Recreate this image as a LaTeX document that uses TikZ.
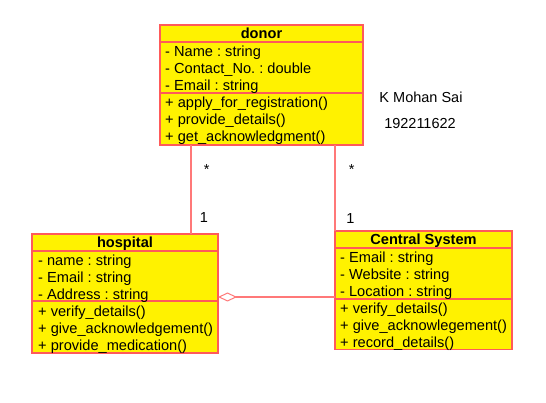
\documentclass[tikz,border=0pt]{standalone}
\usepackage{fontspec}
\setmainfont{Liberation Sans}
\usetikzlibrary{arrows.meta}
\frenchspacing
\definecolor{boxred}{RGB}{255,90,90}
\definecolor{linered}{RGB}{255,120,120}
\tikzset{
 classbox/.style={draw=boxred, fill=yellow, line width=1.6pt, rectangle, inner sep=0pt, outer sep=0pt, anchor=north west},
 sepline/.style={draw=boxred, line width=1.7pt},
 member/.style={anchor=base west, inner sep=0pt, font=\fontsize{14.6}{16}\selectfont},
 ctitle/.style={anchor=base, inner sep=0pt, font=\bfseries\fontsize{14.6}{16}\selectfont},
 link/.style={draw=linered, line width=1.5pt},
 mult/.style={inner sep=0pt, font=\fontsize{14.5}{16}\selectfont},
}
\begin{document}
\begin{tikzpicture}[x=1pt,y=-1pt]
\useasboundingbox (0,0) rectangle (546,403);
% donor
\node[classbox, minimum width=203pt, minimum height=120pt] (donor) at (160,25) {};
\draw[sepline] (donor.west |- 0,42) -- (donor.east |- 0,42);
\draw[sepline] (donor.west |- 0,93) -- (donor.east |- 0,93);
\node[ctitle] (donorT) at (261.5,38.6) {donor};
\node[member] (d1) at (165,56.2) {- Name : string};
\node[member] (d2) at (165,73.4) {- Contact\_No. : double};
\node[member] (d3) at (165,90.4) {- Email : string};
\node[member] (d4) at (165,107.7) {+ apply\_for\_registration()};
\node[member] (d5) at (165,124.7) {+ provide\_details()};
\node[member] (d6) at (165,141.2) {+ get\_acknowledgment()};
% hospital
\node[classbox, minimum width=186pt, minimum height=119pt] (hospital) at (32,234) {};
\draw[sepline] (hospital.west |- 0,251) -- (hospital.east |- 0,251);
\draw[sepline] (hospital.west |- 0,301) -- (hospital.east |- 0,301);
\node[ctitle] (hospT) at (125,247.6) {hospital};
\node[member] (h1) at (38,265.4) {- name : string};
\node[member] (h2) at (38,282.4) {- Email : string};
\node[member] (h3) at (38,299.4) {- Address : string};
\node[member] (h4) at (38,316.1) {+ verify\_details()};
\node[member] (h5) at (38,333.1) {+ give\_acknowledgement()};
\node[member] (h6) at (38,350.2) {+ provide\_medication()};
% central system
\node[classbox, minimum width=177pt, minimum height=118.5pt] (central) at (335,231) {};
\draw[sepline] (central.west |- 0,248.3) -- (central.east |- 0,248.3);
\draw[sepline] (central.west |- 0,298.7) -- (central.east |- 0,298.7);
\node[ctitle] (centT) at (423.5,244.6) {Central System};
\node[member] (c1) at (340,262.7) {- Email : string};
\node[member] (c2) at (340,279.7) {- Website : string};
\node[member] (c3) at (340,296.4) {- Location : string};
\node[member] (c4) at (340,313.7) {+ verify\_details()};
\node[member] (c5) at (340,330.4) {+ give\_acknowlegement()};
\node[member] (c6) at (340,347.1) {+ record\_details()};
% connectors
\coordinate (hx) at (191,0);
\draw[link] (donor.south -| hx) -- (hospital.north -| hx);
\draw[link] (donor.south -| central.north west) -- (central.north west);
\draw[link, {Diamond[fill=white, length=19pt, width=9pt, line width=1pt]}-] (hospital.east |- 0,297) -- (central.west |- 0,297);
% multiplicities
\node[mult] (m1) at (206.7,169.5) {*};
\node[mult] (m2) at (204,218) {1};
\node[mult] (m3) at (351.7,169.5) {*};
\node[mult] (m4) at (350.5,219) {1};
% author
\node[mult] (auth) at (421,97) {K Mohan Sai};
\node[mult] (num) at (420,124) {192211622};
\end{tikzpicture}
\end{document}
